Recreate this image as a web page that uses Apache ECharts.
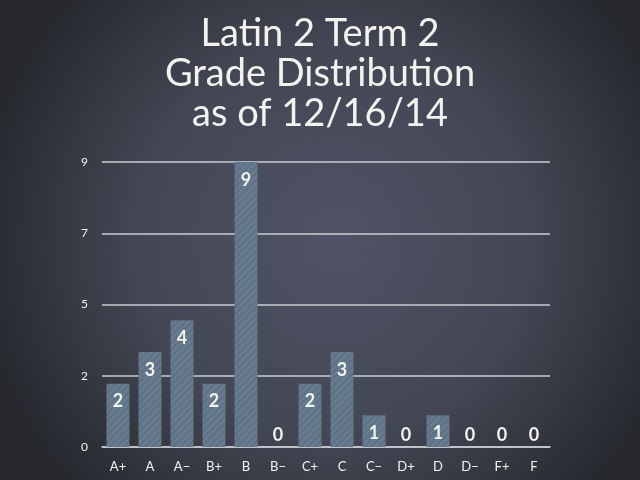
<!DOCTYPE html>
<html>
<head>
<meta charset="utf-8">
<script src="https://cdn.jsdelivr.net/npm/echarts@6/dist/echarts.min.js"></script>
<style>
html,body{margin:0;padding:0;background:#33363f;}
#chart{width:640px;height:480px;}
</style>
</head>
<body>
<div id="chart"></div>
<script>
const titleLines = ["Latin 2 Term 2", "Grade Distribution", "as of 12/16/14"];
const grades = ["A+","A","A\u2212","B+","B","B\u2212","C+","C","C\u2212","D+","D","D\u2212","F+","F"];
const counts = [2,3,4,2,9,0,2,3,1,0,1,0,0,0];
const yMin = 0, yMax = 9, yStep = 2.25;

const chalk = '#f2f2ee';
const font = 'Lato';

const chart = echarts.init(document.getElementById('chart'), null, {renderer:'canvas'});
chart.setOption({
  backgroundColor: {
    type: 'radial', x: 0.52, y: 0.5, r: 0.75,
    colorStops: [
      {offset: 0, color: '#4f5365'},
      {offset: 0.55, color: '#434653'},
      {offset: 1, color: '#26282e'}
    ]
  },
  title: {
    text: titleLines.join('\n'),
    left: 'center', top: 9,
    textStyle: {color: chalk, fontFamily: font, fontSize: 38, fontWeight: 'normal', lineHeight: 40}
  },
  grid: {left: 102, right: 90, top: 162, bottom: 33, containLabel: false},
  xAxis: {
    type: 'category', data: grades,
    axisLine: {show: true, lineStyle: {color: '#c9ccd2', width: 1.5}},
    axisTick: {show: false},
    axisLabel: {color: chalk, fontFamily: font, fontSize: 13, margin: 13}
  },
  yAxis: {
    type: 'value', min: yMin, max: yMax, interval: yStep,
    axisLine: {show: false}, axisTick: {show: false},
    axisLabel: {color: chalk, fontFamily: font, fontSize: 12, margin: 14,
      formatter: v => String(Math.round(v))},
    splitLine: {lineStyle: {color: '#c9ccd2', width: 1.5}}
  },
  series: [{
    type: 'bar', barWidth: 23,
    data: counts.map(v => v === 0
      ? {value: v, label: {position: 'top', distance: 3}}
      : {value: v}),
    itemStyle: {
      color: '#5e7386',
      decal: {symbol: 'rect', dashArrayX: [1, 0], dashArrayY: [2, 3], rotation: -Math.PI / 4, color: 'rgba(255,255,255,0.07)'}
    },
    label: {show: true, position: 'insideTop', distance: 9, color: chalk, fontFamily: font, fontSize: 18, fontWeight: 'bold'},
    silent: true
  }],
  animation: false
});
</script>
</body>
</html>
